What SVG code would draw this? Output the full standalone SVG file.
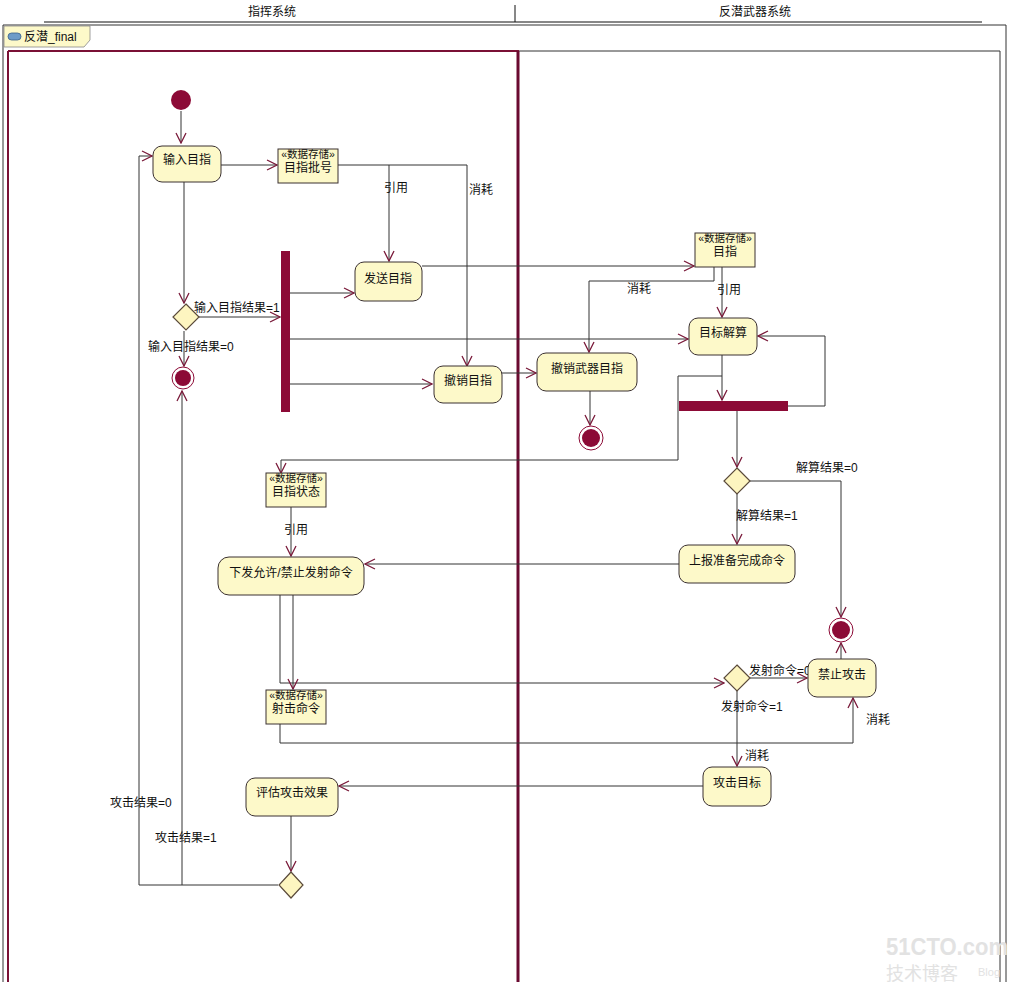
<svg xmlns="http://www.w3.org/2000/svg" width="1024" height="998" viewBox="0 0 1024 998">
<style>
text{font-family:"Liberation Sans","Noto Sans CJK SC",sans-serif;font-size:12px;fill:#111}
.c{text-anchor:middle}
.act{fill:#fdf9c9;stroke:#3a3030;stroke-width:1}
.ds{fill:#fdf9c9;stroke:#3a3030;stroke-width:1}
.dst{font-size:10.5px}
.dia{fill:#fdf5c0;stroke:#5a4a3a;stroke-width:1.2}
.bar{fill:#8c0a36}
.ln{fill:none;stroke:#333;stroke-width:1}
.init{fill:#8c0a36}
.fo{fill:#fff;stroke:#8c0a36;stroke-width:1}
.fi{fill:#8c0a36}
.wm{fill:#e2e2e2}
</style>
<defs>
<marker id="ah" viewBox="0 0 12 12" refX="11" refY="6" markerWidth="12" markerHeight="12" markerUnits="userSpaceOnUse" orient="auto">
<path d="M1,1 L11,6 L1,11" fill="none" stroke="#7a1a3a" stroke-width="1.3"/>
</marker>
</defs>
<rect width="1024" height="998" fill="#fff"/>
<g id="header">
<line x1="44" y1="22" x2="982" y2="22" stroke="#111" stroke-width="1.2"/>
<line x1="515" y1="5" x2="515" y2="22" stroke="#111"/>
<text class="c" x="272" y="16">指挥系统</text>
<text class="c" x="755" y="16">反潜武器系统</text>
</g>
<g id="frame">
<path d="M3,982 V25 H1006 V982" fill="none" stroke="#333"/>
<path d="M4,26 H90 V40 L84,47 H4 Z" fill="#fdf9c9" stroke="#888" stroke-width="0.8"/>
<rect x="8" y="33" width="13" height="7" rx="3.5" fill="#6d9bc8" stroke="#3a5f88" stroke-width="0.8"/>
<text x="24" y="41">反潜_final</text>
<line x1="8" y1="51" x2="1000" y2="51" stroke="#333"/>
<line x1="8" y1="51" x2="519" y2="51" stroke="#7a1035" stroke-width="2"/>
<line x1="8" y1="51" x2="8" y2="982" stroke="#7a1035" stroke-width="2"/>
<line x1="1000" y1="51" x2="1000" y2="982" stroke="#333"/>
<line x1="518" y1="51" x2="518" y2="982" stroke="#6a0a30" stroke-width="3"/>
</g>
<g id="connectors">
<path class="ln" d="M181,111 V143" marker-end="url(#ah)"/>
<path class="ln" d="M221,165 H277" marker-end="url(#ah)"/>
<path class="ln" d="M338,165 H467 V366" marker-end="url(#ah)"/>
<path class="ln" d="M389,165 V261" marker-end="url(#ah)"/>
<path class="ln" d="M422,266 H694" marker-end="url(#ah)"/>
<path class="ln" d="M722,267 V317" marker-end="url(#ah)"/>
<path class="ln" d="M714,267 V281 H589 V352" marker-end="url(#ah)"/>
<path class="ln" d="M184,182 V303" marker-end="url(#ah)"/>
<path class="ln" d="M199,317 H280" marker-end="url(#ah)"/>
<path class="ln" d="M184,331 V366" marker-end="url(#ah)"/>
<path class="ln" d="M290,293 H354" marker-end="url(#ah)"/>
<path class="ln" d="M290,339 H688" marker-end="url(#ah)"/>
<path class="ln" d="M290,384 H432" marker-end="url(#ah)"/>
<path class="ln" d="M502,373 H536" marker-end="url(#ah)"/>
<path class="ln" d="M590,391 V425" marker-end="url(#ah)"/>
<path class="ln" d="M722,355 V400" marker-end="url(#ah)"/>
<path class="ln" d="M788,406 H825 V336 H758" marker-end="url(#ah)"/>
<path class="ln" d="M722,376 H678 V460 H281 V473" marker-end="url(#ah)"/>
<path class="ln" d="M737,411 V467" marker-end="url(#ah)"/>
<path class="ln" d="M750,481 H841 V617" marker-end="url(#ah)"/>
<path class="ln" d="M737,494 V544" marker-end="url(#ah)"/>
<path class="ln" d="M679,564 H365" marker-end="url(#ah)"/>
<path class="ln" d="M291,507 V556" marker-end="url(#ah)"/>
<path class="ln" d="M280,595 V683 H724" marker-end="url(#ah)"/>
<path class="ln" d="M293,595 V689" marker-end="url(#ah)"/>
<path class="ln" d="M280,724 V743 H853 V698" marker-end="url(#ah)"/>
<path class="ln" d="M750,678 H807" marker-end="url(#ah)"/>
<path class="ln" d="M737,691 V766" marker-end="url(#ah)"/>
<path class="ln" d="M841,659 V643" marker-end="url(#ah)"/>
<path class="ln" d="M703,786 H339" marker-end="url(#ah)"/>
<path class="ln" d="M291,816 V871" marker-end="url(#ah)"/>
<path class="ln" d="M278,885 H139 V156 H152" marker-end="url(#ah)"/>
<path class="ln" d="M182,885 V391" marker-end="url(#ah)"/>
</g>
<g id="labels">
<text x="384" y="192">引用</text>
<text x="469" y="194">消耗</text>
<text x="717" y="294">引用</text>
<text x="627" y="293">消耗</text>
<text x="194" y="312">输入目指结果=1</text>
<text x="148" y="351">输入目指结果=0</text>
<text x="796" y="472">解算结果=0</text>
<text x="736" y="520">解算结果=1</text>
<text x="284" y="534">引用</text>
<text x="749" y="675">发射命令=0</text>
<text x="721" y="711">发射命令=1</text>
<text x="745" y="760">消耗</text>
<text x="866" y="724">消耗</text>
<text x="110" y="807">攻击结果=0</text>
<text x="155" y="842">攻击结果=1</text>
</g>
<g id="start"><circle class="init" cx="181" cy="100" r="10"/></g>
<g id="n_input"><rect class="act" x="153" y="146" width="68" height="36" rx="9"/><text class="c" x="187" y="164">输入目指</text></g>
<g id="ds_batch"><rect class="ds" x="278" y="149" width="60" height="34"/><text class="c dst" x="308" y="158">«数据存储»</text><text class="c" x="308" y="172">目指批号</text></g>
<g id="n_send"><rect class="act" x="355" y="262" width="67" height="39" rx="9"/><text class="c" x="388" y="283">发送目指</text></g>
<g id="ds_target"><rect class="ds" x="695" y="233" width="60" height="34"/><text class="c dst" x="725" y="242">«数据存储»</text><text class="c" x="725" y="256">目指</text></g>
<g id="fork1"><rect class="bar" x="281" y="251" width="9" height="161"/></g>
<g id="d1"><path class="dia" d="M186,304 L199,317 L186,330 L173,317 Z"/></g>
<g id="end1"><circle class="fo" cx="183" cy="378" r="11"/><circle class="fi" cx="183" cy="378" r="8"/></g>
<g id="n_solve"><rect class="act" x="689" y="318" width="68" height="37" rx="9"/><text class="c" x="723" y="337">目标解算</text></g>
<g id="n_cancel"><rect class="act" x="434" y="366" width="68" height="37" rx="9"/><text class="c" x="468" y="385">撤销目指</text></g>
<g id="n_cancelw"><rect class="act" x="537" y="353" width="100" height="38" rx="9"/><text class="c" x="587" y="373">撤销武器目指</text></g>
<g id="end2"><circle class="fo" cx="591" cy="438" r="12"/><circle class="fi" cx="591" cy="438" r="9"/></g>
<g id="fork2"><rect class="bar" x="679" y="401" width="109" height="10"/></g>
<g id="ds_status"><rect class="ds" x="266" y="473" width="60" height="34"/><text class="c dst" x="296" y="482">«数据存储»</text><text class="c" x="296" y="496">目指状态</text></g>
<g id="d2"><path class="dia" d="M737,468 L750,481 L737,494 L724,481 Z"/></g>
<g id="n_report"><rect class="act" x="679" y="545" width="116" height="38" rx="9"/><text class="c" x="737" y="565">上报准备完成命令</text></g>
<g id="n_issue"><rect class="act" x="218" y="557" width="146" height="38" rx="11"/><text class="c" x="291" y="577">下发允许/禁止发射命令</text></g>
<g id="end3"><circle class="fo" cx="841" cy="630" r="12"/><circle class="fi" cx="841" cy="630" r="9"/></g>
<g id="d3"><path class="dia" d="M737,665 L750,678 L737,691 L724,678 Z"/></g>
<g id="n_forbid"><rect class="act" x="808" y="659" width="68" height="38" rx="9"/><text class="c" x="842" y="679">禁止攻击</text></g>
<g id="ds_fire"><rect class="ds" x="266" y="690" width="60" height="34"/><text class="c dst" x="296" y="699">«数据存储»</text><text class="c" x="296" y="713">射击命令</text></g>
<g id="n_attack"><rect class="act" x="703" y="767" width="68" height="39" rx="9"/><text class="c" x="737" y="787">攻击目标</text></g>
<g id="n_eval"><rect class="act" x="246" y="778" width="92" height="38" rx="9"/><text class="c" x="292" y="797">评估攻击效果</text></g>
<g id="d4"><path class="dia" d="M291,872 L303,885 L291,898 L279,885 Z"/></g>
<g id="watermark">
<text class="wm" x="886" y="955" textLength="122" lengthAdjust="spacingAndGlyphs" style="font-size:24px;font-weight:bold">51CTO.com</text>
<text class="wm" x="886" y="980" style="font-size:18px">技术博客</text>
<text class="wm" x="978" y="976" style="font-size:11px">Blog</text>
</g>
</svg>
